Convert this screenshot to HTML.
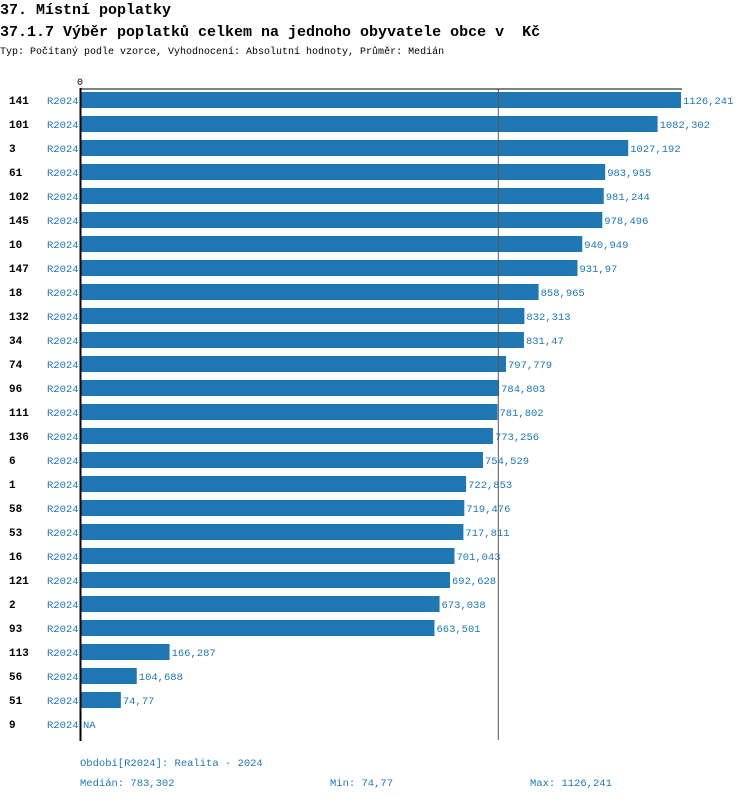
<!DOCTYPE html>
<html><head><meta charset="utf-8"><style>
body{margin:0;background:#fff;width:750px;height:800px;overflow:hidden;font-family:"Liberation Mono",monospace}
svg text{font-family:"Liberation Mono",monospace}
</style></head><body>
<svg id="c" width="750" height="800">
<text x="0" y="14" font-size="15" font-weight="bold">37. Místní poplatky</text>
<text x="0" y="36" font-size="15" font-weight="bold">37.1.7 Výběr poplatků celkem na jednoho obyvatele obce v&#160; Kč</text>
<text x="0" y="54" font-size="10">Typ: Počítaný podle vzorce, Vyhodnocení: Absolutní hodnoty, Průměr: Medián</text>
<g id="bars"></g>
<text x="80" y="766" font-size="10.5" fill="#1f77b4">Období[R2024]: Realita - 2024</text>
<text x="80" y="786" font-size="10.5" fill="#1f77b4">Medián: 783,302</text>
<text x="330" y="786" font-size="10.5" fill="#1f77b4">Min: 74,77</text>
<text x="530" y="786" font-size="10.5" fill="#1f77b4">Max: 1126,241</text>
</svg>
<script>
const categories=["141","101","3","61","102","145","10","147","18","132","34","74","96","111","136","6","1","58","53","16","121","2","93","113","56","51","9"];
const values=[1126.241,1082.302,1027.192,983.955,981.244,978.496,940.949,931.97,858.965,832.313,831.47,797.779,784.803,781.802,773.256,754.529,722.853,719.476,717.811,701.043,692.628,673.038,663.501,166.287,104.688,74.77,null];
const period="R2024";
const median=783.302;
const NS="http://www.w3.org/2000/svg";
const g=document.getElementById('bars');
const x0=81,maxV=1126.241,W=600;
const xs=v=>x0+v/maxV*W;
const ys=i=>100+i*24;
function mk(t,a){const e=document.createElementNS(NS,t);for(const k in a)e.setAttribute(k,a[k]);g.appendChild(e);return e;}
const fmt=v=>String(v).replace('.',',');
categories.forEach((c,i)=>{
  const y=ys(i);
  let t=mk('text',{x:9,y:y+4,'font-size':11,'font-weight':'bold'});t.textContent=c;
  
  
  t=mk('text',{x:47,y:y+4,'font-size':10.5,fill:'#1f77b4'});t.textContent=period;
  
  
  const v=values[i];
  if(v!=null){
    const r=mk('rect',{x:x0,y:y-8,width:xs(v)-x0,height:16,fill:'#1f77b4'});
    
    
  }
  t=mk('text',{x:(v!=null?xs(v):x0)+2,y:y+4,'font-size':10.5,fill:'#1f77b4'});t.textContent=v!=null?fmt(v):'NA';
  
  
});
let l=mk('line',{x1:xs(median),x2:xs(median),y1:89,y2:740,stroke:'#555','stroke-width':1});


l=mk('line',{x1:80,x2:682,y1:89,y2:89,stroke:'#000','stroke-width':1});


l=mk('line',{x1:80.5,x2:80.5,y1:88,y2:741,stroke:'#000','stroke-width':2});


const z=mk('text',{x:77,y:85,'font-size':10});z.textContent='0';


</script>
</body></html>
